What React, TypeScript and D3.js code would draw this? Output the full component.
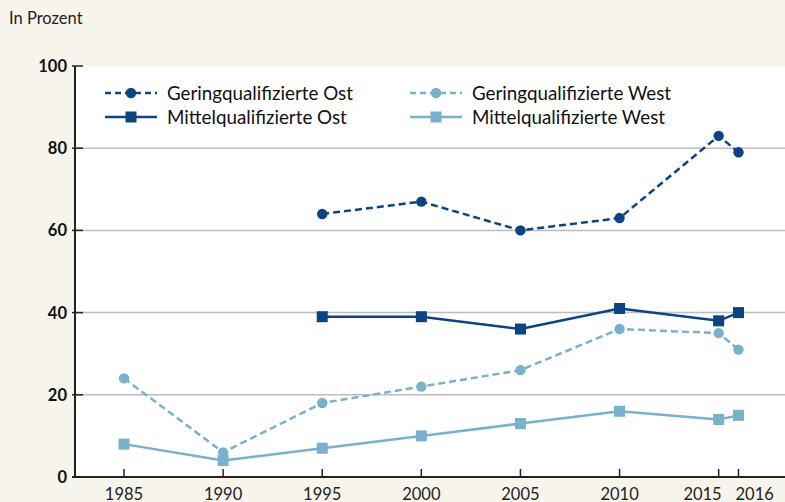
import React from "react";
import * as d3 from "d3";

const years = [1985, 1990, 1995, 2000, 2005, 2010, 2015, 2016];
const geringOst = [null, null, 64, 67, 60, 63, 83, 79];
const mittelOst = [null, null, 39, 39, 36, 41, 38, 40];
const geringWest = [24, 6, 18, 22, 26, 36, 35, 31];
const mittelWest = [8, 4, 7, 10, 13, 16, 14, 15];
const yTicks = [0, 20, 40, 60, 80, 100];
const xTicks = [1985, 1990, 1995, 2000, 2005, 2010, 2015, 2016];

const DARK = "#0c4483";
const LIGHT = "#79b1cd";

const seriesList = [
  { name: "Geringqualifizierte Ost", values: geringOst, color: DARK, dashed: true, marker: "circle" },
  { name: "Mittelqualifizierte Ost", values: mittelOst, color: DARK, dashed: false, marker: "square" },
  { name: "Geringqualifizierte West", values: geringWest, color: LIGHT, dashed: true, marker: "circle" },
  { name: "Mittelqualifizierte West", values: mittelWest, color: LIGHT, dashed: false, marker: "square" },
];

export default function App() {
  const W = 785, H = 502;
  const left = 75, right = 785, top = 66, bottom = 477;
  const x = d3.scaleLinear().domain([1985, 2016]).range([124, 738.5]);
  const y = d3.scaleLinear().domain([0, 100]).range([bottom, top]);
  const font = "Lato, 'Noto Sans', sans-serif";

  const marker = (type: string, cx: number, cy: number, color: string, key: string) =>
    type === "circle" ? (
      <circle key={key} cx={cx} cy={cy} r={5.2} fill={color} />
    ) : (
      <rect key={key} x={cx - 5.5} y={cy - 5.5} width={11} height={11} fill={color} />
    );

  const legendPos = [
    { lx: 105, ly: 93 },
    { lx: 105, ly: 117 },
    { lx: 410, ly: 93 },
    { lx: 410, ly: 117 },
  ];

  const tickAnchor = (t: number) => (t === 2015 ? "end" : t === 2016 ? "start" : "middle");
  const tickShift = (t: number) => (t === 2015 ? 3 : t === 2016 ? -3 : 0);

  return (
    <div style={{ position: "absolute", left: 0, top: 0 }}>
      <svg width={W} height={H} style={{ display: "block" }}>
        <rect x={0} y={0} width={W} height={H} fill="#f7f4ec" />
        <rect x={left} y={top} width={right - left} height={bottom - top} fill="#ffffff" />
        <text x={9} y={24} fontFamily={font} fontSize={16.5} fill="#222">In Prozent</text>
        {yTicks.map((t) => (
          <g key={t}>
            {t > 0 && t < 100 && (
              <line x1={left} x2={right} y1={y(t)} y2={y(t)} stroke="#bdbdbd" strokeWidth={1.5} />
            )}
            <line x1={left - 3} x2={left + 8} y1={y(t)} y2={y(t)} stroke="#222" strokeWidth={1.5} />
            <text x={67} y={y(t) + 6} textAnchor="end" fontFamily={font} fontWeight="bold" fontSize={16.5} fill="#111">{t}</text>
          </g>
        ))}
        <line x1={left} x2={left} y1={top} y2={bottom} stroke="#222" strokeWidth={2} />
        <line x1={left - 3} x2={right} y1={bottom} y2={bottom} stroke="#222" strokeWidth={2} />
        {xTicks.map((t) => (
          <g key={t}>
            <line x1={x(t)} x2={x(t)} y1={bottom} y2={bottom - 8} stroke="#222" strokeWidth={1.5} />
            <text x={x(t) + tickShift(t)} y={500} textAnchor={tickAnchor(t)} fontFamily={font} fontSize={16.5} fill="#222">{t}</text>
          </g>
        ))}
        {seriesList.map((s, si) => {
          const pts = years
            .map((yr, i) => ({ yr, v: s.values[i] }))
            .filter((p) => p.v !== null) as { yr: number; v: number }[];
          const line = d3.line<{ yr: number; v: number }>().x((p) => x(p.yr)).y((p) => y(p.v));
          return (
            <g key={s.name}>
              <path d={line(pts) || ""} fill="none" stroke={s.color} strokeWidth={2.5} strokeDasharray={s.dashed ? "7,4" : undefined} />
              {pts.map((p, i) => marker(s.marker, x(p.yr), y(p.v), s.color, `${si}-${i}`))}
            </g>
          );
        })}
        {seriesList.map((s, si) => {
          const { lx, ly } = legendPos[si];
          return (
            <g key={"lg" + si}>
              <line x1={lx} x2={lx + 52} y1={ly} y2={ly} stroke={s.color} strokeWidth={2.5} strokeDasharray={s.dashed ? "6,4" : undefined} />
              {marker(s.marker, lx + 26, ly, s.color, "m" + si)}
              <text x={lx + 62} y={ly + 7} fontFamily={font} fontSize={18.8} fill="#111">{s.name}</text>
            </g>
          );
        })}
      </svg>
    </div>
  );
}
